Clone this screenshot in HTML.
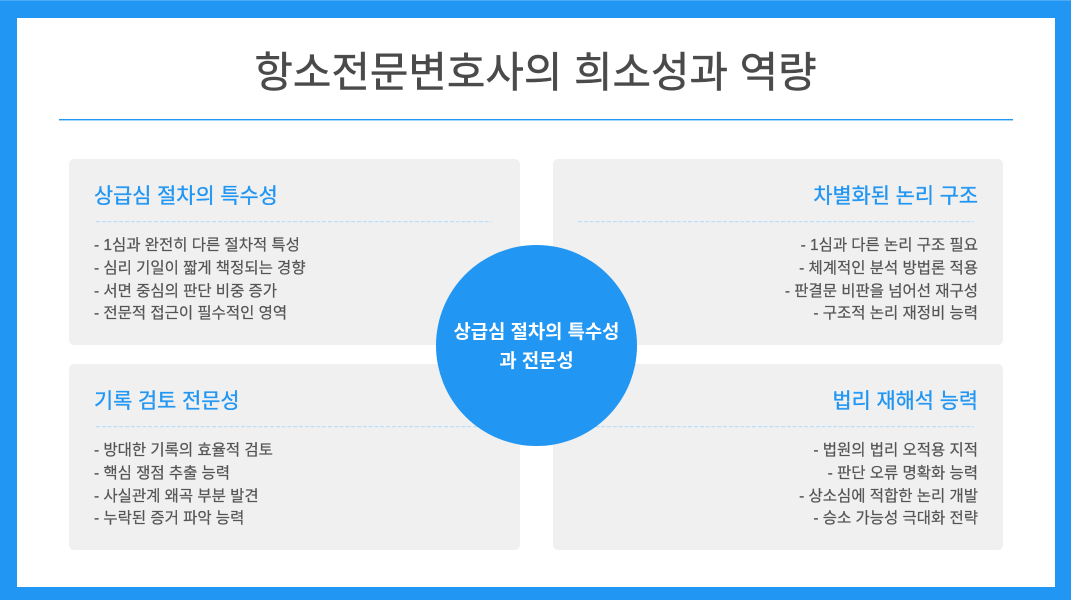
<!DOCTYPE html>
<html lang="ko"><head><meta charset="utf-8"><style>
html,body{margin:0;padding:0;background:#fff}
body{width:1071px;height:600px;position:relative;overflow:hidden;font-family:"Liberation Sans","Noto Sans CJK KR",sans-serif}
.frame{position:absolute;left:0;top:0;width:1038px;height:569px;border:solid #2196f3;border-width:18px 16px 13px 17px}
.edge{position:absolute;left:0;top:0;width:1071px;height:1px;background:#4dabf5}
.title{position:absolute;left:0;width:1071px;top:43px;text-align:center;font-size:41.85px;line-height:60px;color:#4a4a4a;white-space:nowrap;-webkit-text-stroke:.5px #4a4a4a}
.rule{position:absolute;left:59px;top:119px;width:954px;height:2px;background:linear-gradient(#2196f3 0 1px,#a6d5fa 1px 2px)}
.card{position:absolute;width:451px;height:186px;background:#f0f0f0;border-radius:5px}
.a{left:69px}.b{left:553px;width:450px}
.t1{top:159px}.t2{top:364px}
.h{position:absolute;top:22px;left:25px;right:25px;font-size:20.8px;line-height:32px;color:#2196f3;white-space:nowrap;-webkit-text-stroke:.35px #2196f3}
.d{position:absolute;top:62px;left:27px;right:28px;height:2px;background:linear-gradient(#f0f0f000 0 1px,#f0f0f0cc 1px 2px),repeating-linear-gradient(90deg,#bbdefb 0 4px,transparent 4px 5.8px)}
.b .d{left:25px;right:29px}
.l{position:absolute;top:76px;left:25px;right:25px;font-size:15.5px;word-spacing:-.1px;line-height:22.8px;color:#555;white-space:nowrap;-webkit-text-stroke:.2px #555}
.b .h,.b .l{text-align:right}
.c{position:absolute;left:436px;top:245px;width:201px;height:201px;border-radius:50%;background:#2196f3}
.ct{position:absolute;left:436px;width:201px;top:318px;text-align:center;color:#fff;font-size:18.8px;font-weight:700;line-height:28.5px;white-space:nowrap}
</style></head><body>
<div class="frame"></div>
<div class="edge"></div>
<div class="title">항소전문변호사의 희소성과 역량</div>
<div class="rule"></div>
<div class="card a t1"><div class="h">상급심 절차의 특수성</div><div class="d"></div><div class="l">- 1심과 완전히 다른 절차적 특성<br>- 심리 기일이 짧게 책정되는 경향<br>- 서면 중심의 판단 비중 증가<br>- 전문적 접근이 필수적인 영역</div></div>
<div class="card b t1"><div class="h">차별화된 논리 구조</div><div class="d"></div><div class="l">- 1심과 다른 논리 구조 필요<br>- 체계적인 분석 방법론 적용<br>- 판결문 비판을 넘어선 재구성<br>- 구조적 논리 재정비 능력</div></div>
<div class="card a t2"><div class="h">기록 검토 전문성</div><div class="d"></div><div class="l">- 방대한 기록의 효율적 검토<br>- 핵심 쟁점 추출 능력<br>- 사실관계 왜곡 부분 발견<br>- 누락된 증거 파악 능력</div></div>
<div class="card b t2"><div class="h">법리 재해석 능력</div><div class="d"></div><div class="l">- 법원의 법리 오적용 지적<br>- 판단 오류 명확화 능력<br>- 상소심에 적합한 논리 개발<br>- 승소 가능성 극대화 전략</div></div>
<div class="c"></div>
<div class="ct">상급심 절차의 특수성<br>과 전문성</div>
</body></html>
